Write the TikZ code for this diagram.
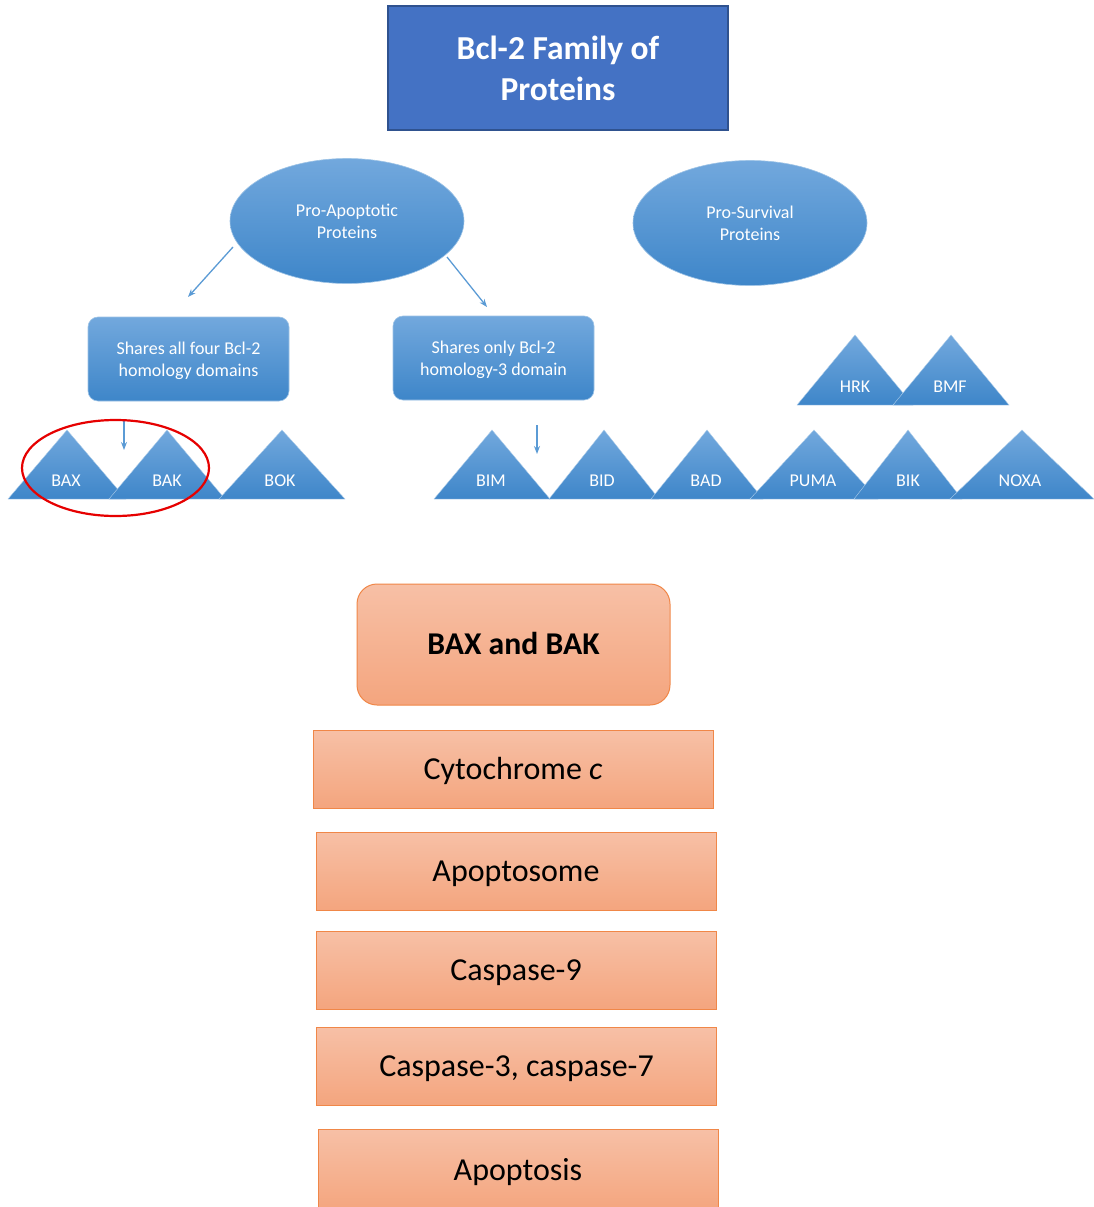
\documentclass[tikz,border=0pt]{standalone}
\usepackage{fontspec}
\setmainfont{Carlito}
\usetikzlibrary{shapes.geometric,arrows.meta}
\definecolor{titleblue}{RGB}{68,114,196}
\definecolor{titleedge}{RGB}{47,82,143}
\definecolor{bluetop}{RGB}{114,168,221}
\definecolor{bluebot}{RGB}{62,134,201}
\definecolor{blueedge}{RGB}{91,155,213}
\definecolor{ortop}{RGB}{247,192,166}
\definecolor{orbot}{RGB}{244,165,126}
\definecolor{oredge}{RGB}{240,135,72}
\definecolor{redring}{RGB}{230,0,0}
\tikzset{
  titlebox/.style={draw=titleedge,line width=1.5pt,fill=titleblue,minimum width=340,minimum height=124,inner sep=0,text=white,align=center,font=\fontsize{33.5}{41}\selectfont\bfseries},
  blueoval/.style={ellipse,draw=blueedge!60,line width=0.6pt,top color=bluetop,bottom color=bluebot,minimum width=234,minimum height=125,inner sep=0,text=white,align=center,font=\fontsize{18}{22}\selectfont},
  bluebox/.style={rectangle,rounded corners=10,draw=blueedge!60,line width=0.6pt,top color=bluetop,bottom color=bluebot,minimum width=201,minimum height=84,inner sep=0,text=white,align=center,text depth=0pt,font=\fontsize{18}{22}\selectfont},
  trilabel/.style={text=white,inner sep=0,font=\fontsize{18}{20}\selectfont},
  trifill/.style={top color=bluetop,bottom color=bluebot,draw=blueedge!50,line width=0.4pt},
  orbox/.style={rectangle,draw=oredge,line width=1pt,top color=ortop,bottom color=orbot,minimum width=400,minimum height=78,inner sep=0,text=black,text height=20pt,text depth=0pt,font=\fontsize{32}{36}\selectfont},
  bluearrow/.style={draw=blueedge,line width=1.3pt,-{Stealth[length=8pt,width=6pt]}},
}
\newcommand{\mytri}[4]{% apex x, apex y, half width, base y
  \shade[trifill] (#1-#3,#4) -- (#1,#2) -- (#1+#3,#4) -- cycle;
}
\begin{document}
\begin{tikzpicture}[x=1pt,y=-1pt]
\useasboundingbox (0,0) rectangle (1094,1207);
\fill[white] (0,0) rectangle (1094,1207);

% title
\node[titlebox] (title) at (558,68) {Bcl-2 Family of\\Proteins};

% ellipses
\node[blueoval] (pa) at (347,221) {Pro-Apoptotic\\Proteins};
\node[blueoval] (ps) at (750,223) {Pro-Survival\\Proteins};

% boxes
\node[bluebox] (four) at (188.5,359) {Shares all four Bcl-2\\homology domains};
\node[bluebox] (bh3) at (493.5,358) {Shares only Bcl-2\\homology-3 domain};

% arrows
\coordinate (a1s) at (233,247);
\coordinate (a1e) at (188,297);
\coordinate (a2s) at (447,257);
\coordinate (a2e) at (487,307);
\coordinate (a3s) at (124,420);
\coordinate (a3e) at (124,450);
\coordinate (a4s) at (537,425);
\coordinate (a4e) at (537,454);
\draw[bluearrow] (a1s) -- (a1e);
\draw[bluearrow] (a2s) -- (a2e);
\draw[bluearrow] (a3s) -- (a3e);
\draw[bluearrow] (a4s) -- (a4e);

% left triangles
\mytri{67}{430}{59}{499}
\mytri{167}{430}{58}{499}
\mytri{282}{430}{63}{499}
\node[trilabel] (bax) at (66,481) {BAX};
\node[trilabel] (bak) at (167,481) {BAK};
\node[trilabel] (bok) at (280,481) {BOK};

% right triangles
\mytri{492}{430}{58}{499}
\mytri{604}{430}{55}{499}
\mytri{707}{430}{56}{499}
\mytri{814}{430}{64}{499}
\mytri{908}{430}{54}{499}
\mytri{1022}{430}{72}{499}
\node[trilabel] (bim) at (491,481) {BIM};
\node[trilabel] (bid) at (602,481) {BID};
\node[trilabel] (bad) at (706,481) {BAD};
\node[trilabel] (puma) at (813,481) {PUMA};
\node[trilabel] (bik) at (908,481) {BIK};
\node[trilabel] (noxa) at (1020,481) {NOXA};

% survival triangles
\mytri{855}{335}{58}{405}
\mytri{951}{335}{58}{405}
\node[trilabel] (hrk) at (855,387) {HRK};
\node[trilabel] (bmf) at (950,387) {BMF};

% red ring
\draw[redring,line width=2.2pt] (115.5,468) ellipse [x radius=93.5,y radius=48];

% orange cascade
\node[orbox,rounded corners=20,minimum width=313,minimum height=121,font=\fontsize{31.7}{36}\selectfont\bfseries] (bb) at (513.5,644.5) {BAX and BAK};
\node[orbox] (cyt) at (513,769) {Cytochrome \textit{c}};
\node[orbox] (apo) at (516,871) {Apoptosome};
\node[orbox] (c9) at (516,970) {Caspase-9};
\node[orbox] (c37) at (516.5,1066.5) {Caspase-3, caspase-7};
\node[orbox,minimum height=82] (apt) at (518,1170) {Apoptosis};
\end{tikzpicture}
\end{document}
